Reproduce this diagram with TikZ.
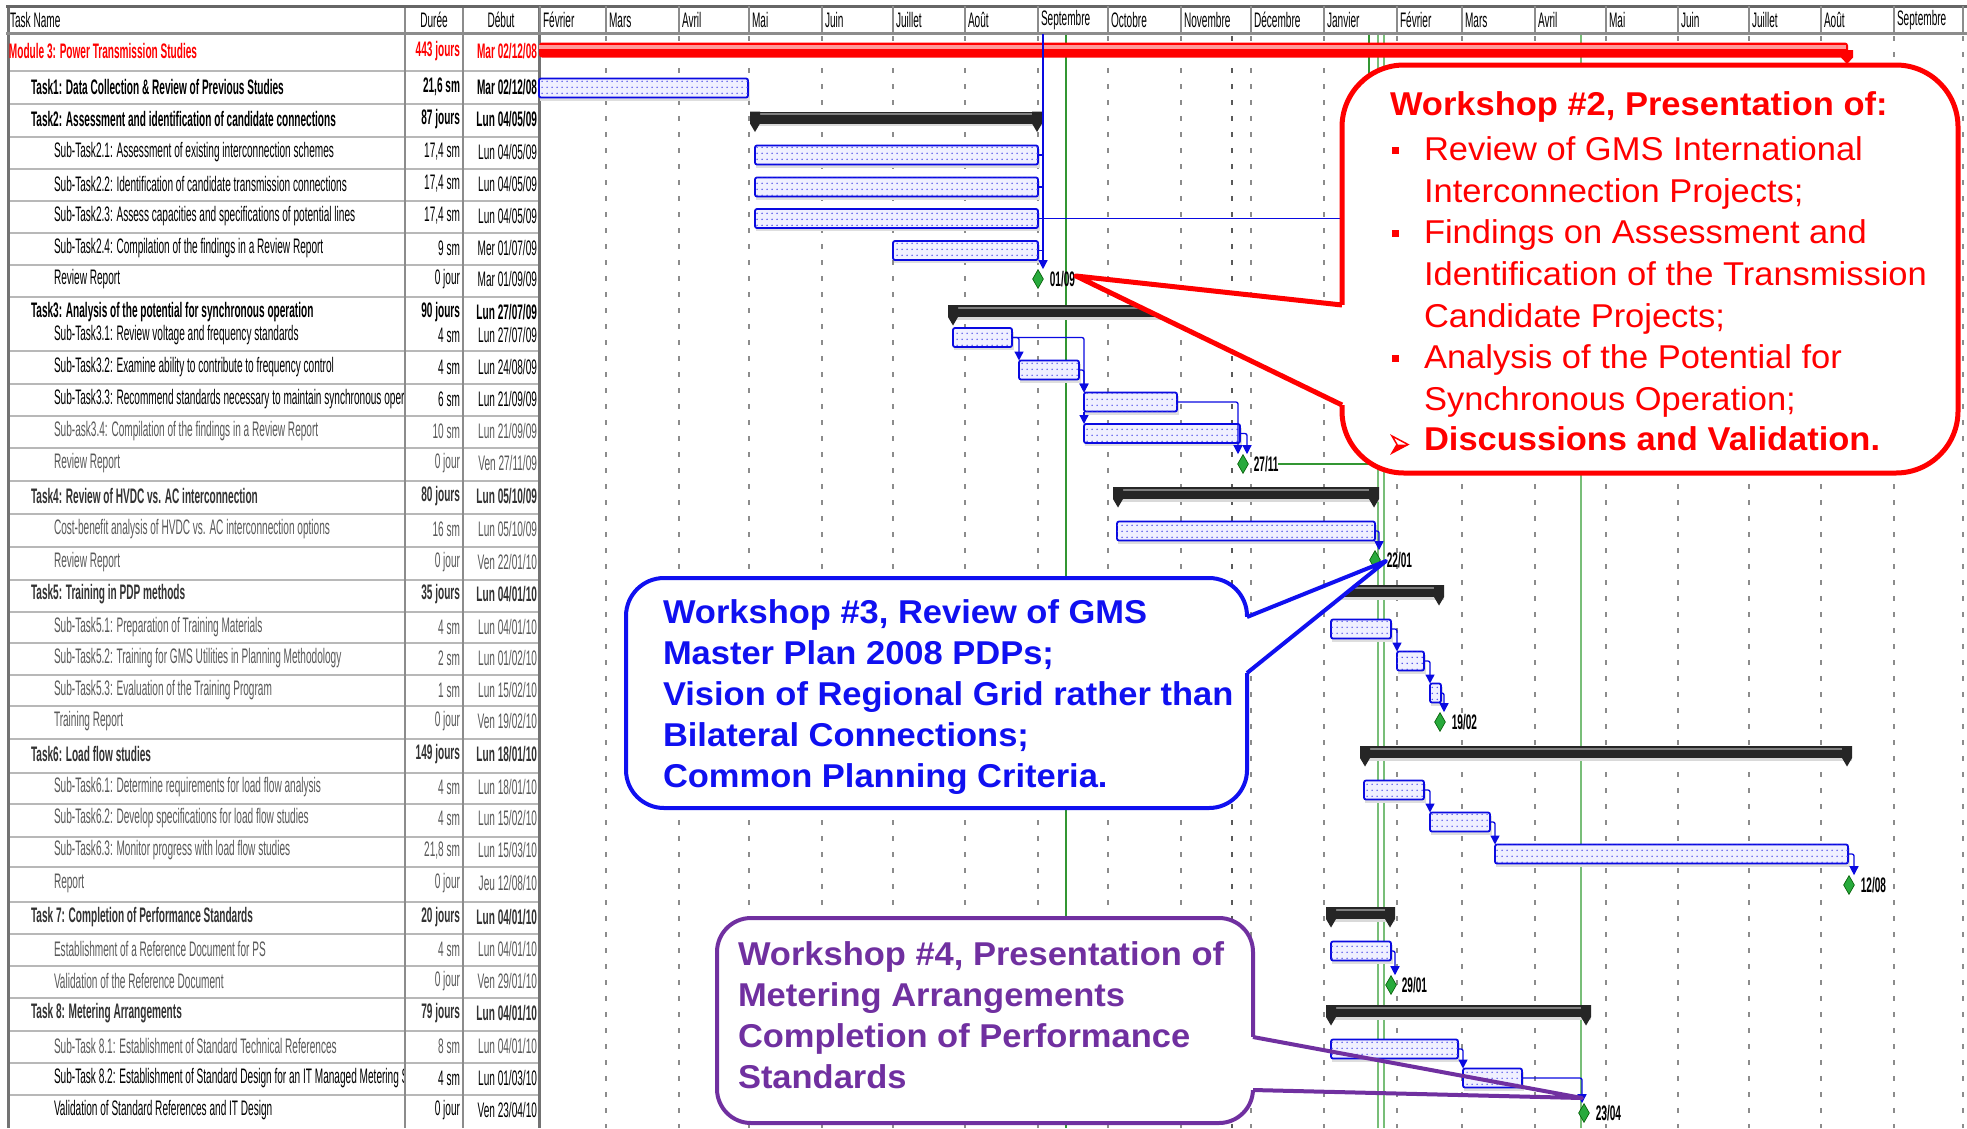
\documentclass[tikz,border=0pt]{standalone}
\usepackage{fontspec}
\setmainfont{Liberation Sans}
\newfontfamily\tabfont[FakeStretch=0.48]{Liberation Sans}
\newfontfamily\callfont[FakeStretch=1.045]{Liberation Sans}
\usetikzlibrary{shapes.geometric,arrows.meta,patterns.meta}
\definecolor{gblue}{RGB}{10,10,225}
\definecolor{cblue}{RGB}{16,16,240}
\definecolor{cpurple}{RGB}{112,48,160}
\definecolor{mgreen}{RGB}{40,170,60}
\definecolor{dgreen}{RGB}{50,150,50}
\definecolor{lgreen}{RGB}{120,190,120}
\tikzdeclarepattern{name=bardots,type=uncolored,bounding box={(0pt,0pt) and (5pt,6pt)},tile size={(5pt,6pt)},code={\fill (2.5pt,3pt) circle (0.9pt);}}
\newcommand\tfR{\tabfont\fontsize{21}{23}\selectfont}
\newcommand\tfB{\tabfont\bfseries\fontsize{21}{23}\selectfont}
\newcommand\cfR{\callfont\fontsize{33}{40}\selectfont}
\newcommand\cfB{\callfont\bfseries\fontsize{33}{40}\selectfont}
\tikzset{
  tcell/.style={inner sep=0pt,outer sep=0pt},
  taskbar/.style={draw=gblue,line width=1.8pt,fill=blue!6,inner sep=0pt,outer sep=0pt,minimum height=19pt,rounded corners=2pt,postaction={pattern={bardots},pattern color=gblue!75}},
  sumbar/.style={fill=black!85,inner sep=0pt,outer sep=0pt,minimum height=12pt},
  mile/.style={diamond,fill=mgreen,draw=green!35!black,line width=0.6pt,inner sep=0pt,minimum width=11pt,minimum height=19pt},
  link/.style={draw=gblue,line width=1.3pt,rounded corners=2pt,-{Triangle[width=9pt,length=9pt]}},
  plainlink/.style={draw=gblue,line width=1.3pt},
  mlab/.style={inner sep=0pt,outer sep=0pt,font=\tfB,anchor=west},
  rowsep/.style={draw=black!28,line width=2.5pt},
  colsep/.style={draw=black!45,line width=2pt},
  gridl/.style={draw=black!45,line width=1.5pt,dash pattern=on 5pt off 11pt},
  ctext/.style={inner sep=0pt,outer sep=0pt,anchor=base west}
}
\newcommand\tbar[4]{%
  \fill[black!13] (#2+1,#4-6) rectangle (#3+2,#4+12.5);
  \node[taskbar,anchor=west,minimum width={(#3)-(#2)}] (#1) at (#2,#4) {};}
\newcommand\sbar[4]{%
  \fill[black!15] (#2,#4-3) rectangle (#3+2,#4+8.5);
  \node[sumbar,anchor=west,minimum width={(#3)-(#2)}] (#1) at (#2,#4) {};
  \fill[black!50] (#2,#4-4.5) rectangle (#3,#4-2.5);
  \fill[black!85] (#2-2,#4-6) -- (#2+8,#4-6) -- (#2+8,#4+6) -- (#2+3,#4+14.5) -- (#2-2,#4+6) -- cycle;
  \fill[black!85] (#3+2,#4-6) -- (#3-8,#4-6) -- (#3-8,#4+6) -- (#3-3,#4+14.5) -- (#3+2,#4+6) -- cycle;}
\newcommand\trow[8]{%
  \begin{scope}\clip (8,33) rectangle (403,1128);
  \node[tcell,anchor=west,font=#4,text=#8] (#1n) at (#3,#2) {#5};
  \end{scope}
  \node[tcell,anchor=east,font=#4,text=#8] (#1d) at (460,#2) {#6};
  \node[tcell,anchor=east,font=#4,text=#8] (#1s) at (537,#2) {#7};}
\begin{document}
\begin{tikzpicture}[x=1pt,y=-1pt]
\useasboundingbox (0,0) rectangle (1967,1128);
\fill[white] (0,0) rectangle (1967,1128);

% ---------- chart grid ----------
\foreach \x in {606,679,749,822,893,965,1038,1108,1181,1251,1324,1397,1462,1535,1606,1678,1749,1821,1894,1963}
  \draw[gridl] (\x,36) -- (\x,1128);
\draw[gridl,draw=black!65] (1232,36) -- (1232,1128);

% green date lines
\draw[dgreen,line width=1.2pt] (1066,34) -- (1066,1128);
\draw[dgreen,line width=1.2pt] (1369,34) -- (1369,464);
\draw[lgreen,line width=1.6pt] (1378,34) -- (1378,1128);
\draw[lgreen,line width=1.6pt] (1384,34) -- (1384,1128);
\draw[lgreen,line width=1.6pt] (1581,34) -- (1581,1128);

% ---------- table ----------
\foreach \y in {71,104,137,169,201,233,265,297,351,384,416,448,481,514,547,580,612,643,675,706,739,773,804,837,867,902,934,966,998,1031,1063,1095}
  \draw[rowsep] (8,\y) -- (539,\y);
\draw[colsep] (405,6) -- (405,1128);
\draw[colsep] (463,6) -- (463,1128);
\draw[draw=black!55,line width=3pt] (8,6) -- (8,1128);
\draw[draw=black!55,line width=3pt] (539,6) -- (539,1128);

% header
\draw[draw=black!60,line width=3pt] (6,6) -- (1967,6);
\draw[draw=black!45,line width=3pt] (6,33) -- (1967,33);
\node[tcell,anchor=west,font=\tfR] (hname) at (10,20) {Task Name};
\node[tcell,font=\tfR] (hdur) at (434,20) {Durée};
\node[tcell,font=\tfR] (hdeb) at (501,20) {Début};
\foreach \x/\m in {540/Février,606/Mars,679/Avril,749/Mai,822/Juin,893/Juillet,965/Août,1038/Septembre,1108/Octobre,1181/Novembre,1251/Décembre,1324/Janvier,1397/Février,1462/Mars,1535/Avril,1606/Mai,1678/Juin,1749/Juillet,1821/Août,1894/Septembre}{
  \draw[colsep] (\x,6) -- (\x,33);
  \node[tcell,anchor=west,font=\tfR] (m\x) at (\x+3,20) {\m};
}
\draw[colsep] (1963,6) -- (1963,33);

% rows
\trow{r0}{51}{9}{\tfB}{Module 3: Power Transmission Studies}{443 jours}{Mar 02/12/08}{red}
\trow{r1}{87}{31}{\tfB}{Task1: Data Collection \& Review of Previous Studies}{21,6 sm}{Mar 02/12/08}{black}
\trow{r2}{119}{31}{\tfB}{Task2: Assessment and identification of candidate connections}{87 jours}{Lun 04/05/09}{black}
\trow{r3}{152}{54}{\tfR}{Sub-Task2.1: Assessment of existing interconnection schemes}{17,4 sm}{Lun 04/05/09}{black}
\trow{r4}{184}{54}{\tfR}{Sub-Task2.2: Identification of candidate transmission connections}{17,4 sm}{Lun 04/05/09}{black}
\trow{r5}{216}{54}{\tfR}{Sub-Task2.3: Assess capacities and specifications of potential lines}{17,4 sm}{Lun 04/05/09}{black}
\trow{r6}{248}{54}{\tfR}{Sub-Task2.4: Compilation of the findings in a Review Report}{9 sm}{Mer 01/07/09}{black}
\trow{r7}{279}{54}{\tfR}{Review Report}{0 jour}{Mar 01/09/09}{black}
\trow{r8a}{312}{31}{\tfB}{Task3: Analysis of the potential for synchronous operation}{90 jours}{Lun 27/07/09}{black}
\trow{r8b}{335}{54}{\tfR}{Sub-Task3.1: Review voltage and frequency standards}{4 sm}{Lun 27/07/09}{black}
\trow{r9}{367}{54}{\tfR}{Sub-Task3.2: Examine ability to contribute to frequency control}{4 sm}{Lun 24/08/09}{black}
\trow{r10}{399}{54}{\tfR}{Sub-Task3.3: Recommend standards necessary to maintain synchronous operation}{6 sm}{Lun 21/09/09}{black}
\trow{r11}{431}{54}{\tfR}{Sub-ask3.4: Compilation of the findings in a Review Report}{10 sm}{Lun 21/09/09}{black!65}
\trow{r12}{463}{54}{\tfR}{Review Report}{0 jour}{Ven 27/11/09}{black!65}
\trow{r13}{496}{31}{\tfB}{Task4: Review of HVDC vs. AC interconnection}{80 jours}{Lun 05/10/09}{black!80}
\trow{r14}{529}{54}{\tfR}{Cost-benefit analysis of HVDC vs. AC interconnection options}{16 sm}{Lun 05/10/09}{black!65}
\trow{r15}{562}{54}{\tfR}{Review Report}{0 jour}{Ven 22/01/10}{black!65}
\trow{r16}{594}{31}{\tfB}{Task5: Training in PDP methods}{35 jours}{Lun 04/01/10}{black!80}
\trow{r17}{627}{54}{\tfR}{Sub-Task5.1: Preparation of Training Materials}{4 sm}{Lun 04/01/10}{black!65}
\trow{r18}{658}{54}{\tfR}{Sub-Task5.2: Training for GMS Utilities in Planning Methodology}{2 sm}{Lun 01/02/10}{black!65}
\trow{r19}{690}{54}{\tfR}{Sub-Task5.3: Evaluation of the Training Program}{1 sm}{Lun 15/02/10}{black!65}
\trow{r20}{721}{54}{\tfR}{Training Report}{0 jour}{Ven 19/02/10}{black!65}
\trow{r21}{754}{31}{\tfB}{Task6: Load flow studies}{149 jours}{Lun 18/01/10}{black!80}
\trow{r22}{787}{54}{\tfR}{Sub-Task6.1: Determine requirements for load flow analysis}{4 sm}{Lun 18/01/10}{black!65}
\trow{r23}{818}{54}{\tfR}{Sub-Task6.2: Develop specifications for load flow studies}{4 sm}{Lun 15/02/10}{black!65}
\trow{r24}{850}{54}{\tfR}{Sub-Task6.3: Monitor progress with load flow studies}{21,8 sm}{Lun 15/03/10}{black!65}
\trow{r25}{883}{54}{\tfR}{Report}{0 jour}{Jeu 12/08/10}{black!65}
\trow{r26}{917}{31}{\tfB}{Task 7: Completion of Performance Standards}{20 jours}{Lun 04/01/10}{black!80}
\trow{r27}{949}{54}{\tfR}{Establishment of a Reference Document for PS}{4 sm}{Lun 04/01/10}{black!65}
\trow{r28}{981}{54}{\tfR}{Validation of the Reference Document}{0 jour}{Ven 29/01/10}{black!65}
\trow{r29}{1013}{31}{\tfB}{Task 8: Metering Arrangements}{79 jours}{Lun 04/01/10}{black!80}
\trow{r30}{1046}{54}{\tfR}{Sub-Task 8.1: Establishment of Standard Technical References}{8 sm}{Lun 04/01/10}{black!65}
\trow{r31}{1078}{54}{\tfR}{Sub-Task 8.2: Establishment of Standard Design for an IT Managed Metering System}{4 sm}{Lun 01/03/10}{black}
\trow{r32}{1110}{54}{\tfR}{Validation of Standard References and IT Design}{0 jour}{Ven 23/04/10}{black}

% ---------- gantt bars ----------
\node[inner sep=0pt,outer sep=0pt,fill=red,minimum height=15pt,minimum width=1309pt,anchor=west,rounded corners=3pt] (b0) at (539,50) {};
\fill[red!40] (539,45) rectangle (1846,48.5);
\fill[red] (1841,50) -- (1853,50) -- (1853,57.5) -- (1847,64) -- (1841,57.5) -- cycle;

\tbar{b1}{539}{748}{88}
\sbar{s2}{752}{1040}{117.5}
\tbar{b21}{755}{1038}{155}
\tbar{b22}{755}{1038}{187}
\tbar{b23}{755}{1038}{218.5}
\tbar{b24}{893}{1038}{250.5}
\sbar{s3}{950}{1242}{311}
\tbar{b31}{953}{1012}{337.5}
\tbar{b32}{1019}{1079}{370}
\tbar{b33}{1084}{1177}{402}
\tbar{b34}{1084}{1240}{433.5}
\sbar{s4}{1115}{1377}{493}
\tbar{bcb}{1117}{1375}{531}
\sbar{s5}{1331}{1442}{591}
\tbar{b51}{1331}{1391}{629}
\tbar{b52}{1397}{1424}{661}
\tbar{b53}{1430}{1441}{693}
\sbar{s6}{1362}{1850}{752}
\tbar{b61}{1364}{1424}{790}
\tbar{b62}{1430}{1490}{822}
\tbar{b63}{1495}{1848}{854}
\sbar{s7}{1328}{1393}{913}
\tbar{best}{1331}{1391}{951}
\sbar{s8}{1328}{1589}{1011}
\tbar{b81}{1331}{1458}{1049}
\tbar{b82}{1463}{1522}{1078}

% milestones
\node[mile] (rr1) at (1038,279) {};
\node[mile] (rr2) at (1243,464) {};
\node[mile] (rr3) at (1375,560) {};
\node[mile] (tr) at (1440,722) {};
\node[mile] (rep) at (1849,885) {};
\node[mile] (val7) at (1391,985) {};
\node[mile] (val8) at (1584,1113) {};
\node[mlab] (rr1l) at ([xshift=6pt]rr1.east) {01/09};
\node[mlab] (rr2l) at ([xshift=5pt]rr2.east) {27/11};
\node[mlab] (rr3l) at ([xshift=6pt]rr3.east) {22/01};
\node[mlab] (trl) at ([xshift=6pt]tr.east) {19/02};
\node[mlab] (repl) at ([xshift=6pt]rep.east) {12/08};
\node[mlab] (val7l) at ([xshift=5pt]val7.east) {29/01};
\node[mlab] (val8l) at ([xshift=6pt]val8.east) {23/04};

% links
\coordinate (top2) at (1043,34);
\draw[link] (top2) -- ([xshift=5pt]rr1.north);
\foreach \b in {b21,b22,b23,b24} \draw[plainlink] (\b.east) -- ++(5,0);
\coordinate (l23end) at (1345,218.5);
\draw[plainlink] (b23.east) -- (l23end);
\draw[link] (b31.east) -| (b32.north west);
\draw[link] (b31.east) -| (b33.north west);
\draw[link] (b32.east) -| (b33.north west);
\draw[link] (b33.south west) -- (b34.north west);
\draw[link] (b33.east) -| ([xshift=-5pt]rr2.north);
\draw[link] (b34.east) -| ([xshift=4pt]rr2.north);
\coordinate (g27end) at (1380,464);
\draw[dgreen,line width=1.5pt] (rr2l.east) -- (g27end);
\draw[link] (bcb.east) -| ([xshift=4pt]rr3.north);
\draw[link] (b51.east) -| (b52.north west);
\draw[link] (b52.east) -| (b53.north west);
\draw[link] (b53.east) -| ([xshift=4pt]tr.north);
\draw[link] (b61.east) -| (b62.north west);
\draw[link] (b62.east) -| (b63.north west);
\draw[link] (b63.east) -| ([xshift=5pt]rep.north);
\draw[link] (best.east) -| ([xshift=4pt]val7.north);
\draw[link] (b81.east) -| (b82.north west);
\draw[link] (b82.east) -| ([xshift=-2pt]val8.north);

% ---------- callout Workshop #2 (red) ----------
\draw[red,line width=5pt,fill=white,rounded corners=62pt] (1342,65) rectangle (1958,473);
\fill[white] (1076,276) -- (1342,305) -- (1342,405) -- cycle;
\fill[white] (1338,305) rectangle (1347,405);
\draw[red,line width=5pt,line join=round] (1342,305) -- (1076,276) -- (1342,405);
\node[ctext,text=red,font=\cfB] (w2h) at (1390,115) {Workshop \#2, Presentation of:};
\fill[red] (1392,147) rectangle (1399,154);
\node[ctext,text=red,font=\cfR] (w2a) at (1424,160) {Review of GMS International};
\node[ctext,text=red,font=\cfR] (w2b) at (1424,202) {Interconnection Projects;};
\fill[red] (1392,230) rectangle (1399,237);
\node[ctext,text=red,font=\cfR] (w2c) at (1424,243) {Findings on Assessment and};
\node[ctext,text=red,font=\cfR] (w2d) at (1424,285) {Identification of the Transmission};
\node[ctext,text=red,font=\cfR] (w2e) at (1424,327) {Candidate Projects;};
\fill[red] (1392,355) rectangle (1399,362);
\node[ctext,text=red,font=\cfR] (w2f) at (1424,368) {Analysis of the Potential for};
\node[ctext,text=red,font=\cfR] (w2g) at (1424,410) {Synchronous Operation;};
\draw[red,line width=1.5pt,line join=miter] (1392,436) -- (1408,444.5) -- (1392,453) -- (1397,444.5) -- cycle;
\fill[red] (1397,444.5) -- (1408,444.5) -- (1392,453) -- cycle;
\node[ctext,text=red,font=\cfB] (w2i) at (1424,450) {Discussions and Validation.};

% ---------- callout Workshop #3 (blue) ----------
\draw[cblue,line width=4pt,fill=white,rounded corners=38pt] (626,578) rectangle (1247,808);
\fill[white] (1386,561) -- (1247,617) -- (1247,673) -- cycle;
\fill[white] (1243,617) rectangle (1251,673);
\draw[cblue,line width=4pt,line join=round] (1247,617) -- (1386,561) -- (1247,673);
\node[ctext,text=cblue,font=\cfB] (w3a) at (663,623) {Workshop \#3, Review of GMS};
\node[ctext,text=cblue,font=\cfB] (w3b) at (663,664) {Master Plan 2008 PDPs;};
\node[ctext,text=cblue,font=\cfB] (w3c) at (663,705) {Vision of Regional Grid rather than};
\node[ctext,text=cblue,font=\cfB] (w3d) at (663,746) {Bilateral Connections;};
\node[ctext,text=cblue,font=\cfB] (w3e) at (663,787) {Common Planning Criteria.};

% ---------- callout Workshop #4 (purple) ----------
\draw[cpurple,line width=4pt,fill=white,rounded corners=34pt] (717,918) rectangle (1253,1123);
\fill[white] (1249,1037) rectangle (1257,1090);
\draw[cpurple,line width=4pt,line join=round] (1253,1037) -- (1582,1098) -- (1253,1090);
\node[ctext,text=cpurple,font=\cfB] (w4a) at (738,965) {Workshop \#4, Presentation of};
\node[ctext,text=cpurple,font=\cfB] (w4b) at (738,1006) {Metering Arrangements};
\node[ctext,text=cpurple,font=\cfB] (w4c) at (738,1047) {Completion of Performance};
\node[ctext,text=cpurple,font=\cfB] (w4d) at (738,1088) {Standards};
\end{tikzpicture}
\end{document}
